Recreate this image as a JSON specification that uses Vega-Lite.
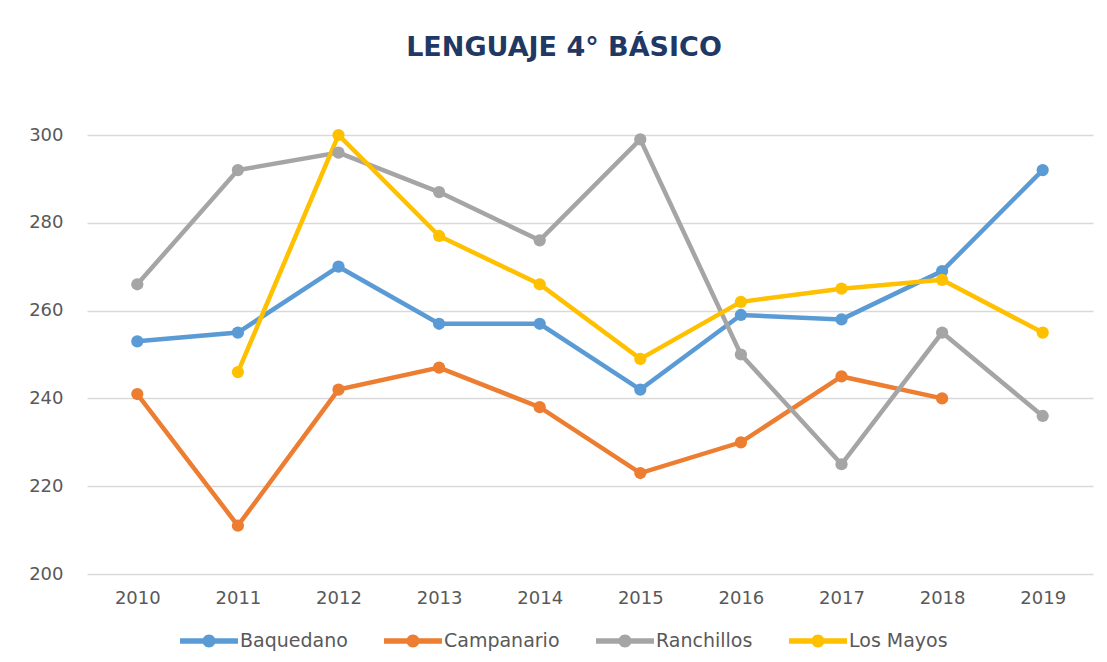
{
  "$schema": "https://vega.github.io/schema/vega-lite/v6.json",
  "autosize": "none",
  "width": 1006,
  "height": 439,
  "padding": {"left": 87, "top": 135, "right": 14, "bottom": 88},
  "background": "white",
  "title": {
    "text": "LENGUAJE 4° BÁSICO",
    "font": "DejaVu Sans",
    "fontSize": 27,
    "fontWeight": "bold",
    "color": "#1F3864",
    "anchor": "middle",
    "baseline": "alphabetic",
    "offset": 43,
    "dx": -26
  },
  "data": {
    "values": [
      {"year": "2010", "school": "Baquedano", "score": 253},
      {"year": "2011", "school": "Baquedano", "score": 255},
      {"year": "2012", "school": "Baquedano", "score": 270},
      {"year": "2013", "school": "Baquedano", "score": 257},
      {"year": "2014", "school": "Baquedano", "score": 257},
      {"year": "2015", "school": "Baquedano", "score": 242},
      {"year": "2016", "school": "Baquedano", "score": 259},
      {"year": "2017", "school": "Baquedano", "score": 258},
      {"year": "2018", "school": "Baquedano", "score": 269},
      {"year": "2019", "school": "Baquedano", "score": 292},
      {"year": "2010", "school": "Campanario", "score": 241},
      {"year": "2011", "school": "Campanario", "score": 211},
      {"year": "2012", "school": "Campanario", "score": 242},
      {"year": "2013", "school": "Campanario", "score": 247},
      {"year": "2014", "school": "Campanario", "score": 238},
      {"year": "2015", "school": "Campanario", "score": 223},
      {"year": "2016", "school": "Campanario", "score": 230},
      {"year": "2017", "school": "Campanario", "score": 245},
      {"year": "2018", "school": "Campanario", "score": 240},
      {"year": "2010", "school": "Ranchillos", "score": 266},
      {"year": "2011", "school": "Ranchillos", "score": 292},
      {"year": "2012", "school": "Ranchillos", "score": 296},
      {"year": "2013", "school": "Ranchillos", "score": 287},
      {"year": "2014", "school": "Ranchillos", "score": 276},
      {"year": "2015", "school": "Ranchillos", "score": 299},
      {"year": "2016", "school": "Ranchillos", "score": 250},
      {"year": "2017", "school": "Ranchillos", "score": 225},
      {"year": "2018", "school": "Ranchillos", "score": 255},
      {"year": "2019", "school": "Ranchillos", "score": 236},
      {"year": "2011", "school": "Los Mayos", "score": 246},
      {"year": "2012", "school": "Los Mayos", "score": 300},
      {"year": "2013", "school": "Los Mayos", "score": 277},
      {"year": "2014", "school": "Los Mayos", "score": 266},
      {"year": "2015", "school": "Los Mayos", "score": 249},
      {"year": "2016", "school": "Los Mayos", "score": 262},
      {"year": "2017", "school": "Los Mayos", "score": 265},
      {"year": "2018", "school": "Los Mayos", "score": 267},
      {"year": "2019", "school": "Los Mayos", "score": 255}
    ]
  },
  "mark": {
    "type": "line",
    "strokeWidth": 4.5,
    "point": {"filled": true, "size": 150, "opacity": 1}
  },
  "encoding": {
    "x": {
      "field": "year",
      "type": "ordinal",
      "scale": {"paddingInner": 0, "paddingOuter": 0},
      "axis": {
        "title": null,
        "labelAngle": 0,
        "ticks": false,
        "domain": false,
        "grid": false,
        "labelFont": "DejaVu Sans",
        "labelFontSize": 18,
        "labelColor": "#595959",
        "labelPadding": 15
      }
    },
    "y": {
      "field": "score",
      "type": "quantitative",
      "scale": {"domain": [200, 300], "zero": false},
      "axis": {
        "title": null,
        "values": [200, 220, 240, 260, 280, 300],
        "ticks": false,
        "domain": false,
        "grid": true,
        "gridColor": "#D9D9D9",
        "gridWidth": 1.5,
        "labelFont": "DejaVu Sans",
        "labelFontSize": 18,
        "labelColor": "#595959",
        "labelPadding": 24
      }
    },
    "color": {
      "field": "school",
      "type": "nominal",
      "sort": ["Baquedano", "Campanario", "Ranchillos", "Los Mayos"],
      "scale": {
        "domain": ["Baquedano", "Campanario", "Ranchillos", "Los Mayos"],
        "range": ["#5B9BD5", "#ED7D31", "#A5A5A5", "#FFC000"]
      },
      "legend": {
        "title": null,
        "orient": "none",
        "direction": "horizontal",
        "legendX": 112,
        "legendY": 496,
        "symbolType": "M-2.9,-0.27 L2.9,-0.27 L2.9,0.27 L-2.9,0.27 Z M-0.65,0 A0.65,0.65 0 1,1 0.65,0 A0.65,0.65 0 1,1 -0.65,0 Z",
        "symbolSize": 400,
        "symbolStrokeWidth": 0,
        "labelOffset": 21,
        "columnPadding": 36,
        "labelFont": "DejaVu Sans",
        "labelFontSize": 19,
        "labelColor": "#595959",
        "encode": {
          "symbols": {"update": {
            "fill": {"scale": "color", "field": "value"},
            "fillOpacity": {"value": 1},
            "strokeWidth": {"value": 0},
            "opacity": {"value": 1}
          }}
        }
      }
    }
  },
  "config": {
    "view": {"stroke": null}
  }
}
